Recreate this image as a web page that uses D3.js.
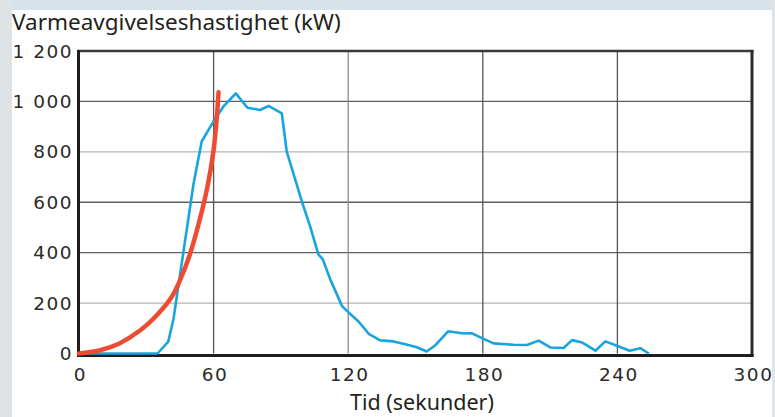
<!DOCTYPE html>
<html lang="no">
<head>
<meta charset="UTF-8"/>
<title>Varmeavgivelseshastighet</title>
<script src="https://d3js.org/d3.v7.min.js"></script>
<style>
	body { margin: 0; background-color: #ffffff; }
	svg { display: block; }
	text { font-family: "Noto Sans", "Open Sans", sans-serif; fill: #231f20; }
	.tick-label { font-family: "DejaVu Sans", sans-serif; font-size: 18.5px; letter-spacing: 1.5px; fill: #2a2a2a; }
</style>
</head>
<body>
<script>
	var w = 775;
	var h = 417;

	// tick values on both axes
	var xTicks = [0, 60, 120, 180, 240, 300];
	var yTicks = [0, 200, 400, 600, 800, 1000, 1200];

	// measured heat release rate, [seconds, kW]
	var measuredTime = [0, 35, 39.8, 42.1, 44.3, 46.5, 48.8, 51, 54.7, 59.9, 64.4, 69.9,
		75.1, 80.7, 84.5, 90.4, 92.6, 96.4, 99.3, 103, 106.7, 108.7, 112, 117.2, 119.4,
		124.6, 129.3, 134.3, 140.2, 145, 150.6, 155, 159, 164.5, 170, 175.2, 179.6, 184.8,
		193.7, 199.7, 204.9, 210.1, 216, 219.8, 224.2, 230.2, 234.6, 239.8, 245.5, 250.2, 254];
	var measuredKw = [0, 0, 47, 136, 268, 400, 538, 670, 841, 920, 980, 1032,
		975, 966, 982, 953, 801, 690, 604, 505, 393, 373, 294, 189, 169,
		127, 77, 52, 48, 38, 25, 8, 34, 88, 81, 80, 61, 40,
		35, 34, 51, 24, 22, 53, 44, 11, 48, 31, 11, 21, 0];

	// growth curve, [seconds, kW]
	var curveTime = [0, 9, 18, 27, 35, 41, 45, 49.5, 53.5, 57, 59.9, 61.4, 62.2];
	var curveKw = [0, 12, 40, 90, 155, 220, 290, 395, 520, 650, 800, 934, 1036];

	var fmt = d3.formatLocale({decimal: ",", thousands: " ", grouping: [3], currency: ["", ""]}).format(",");

	var xScale = d3.scaleLinear()
		.domain([0, 300])
		.range([79, 752]);

	var yScale = d3.scaleLinear()
		.domain([0, 1200])
		.range([353.5, 51]);

	var svg = d3.select("body")
		.append("svg")
		.attr("width", w)
		.attr("height", h);

	// page frame
	svg.append("rect").attr("x", 0).attr("y", 0).attr("width", w).attr("height", 10).attr("fill", "#d8e2ea");
	svg.append("rect").attr("x", 0).attr("y", 0).attr("width", 12).attr("height", h).attr("fill", "#dfe3e6");

	// grid
	svg.selectAll(".hgrid")
		.data(yTicks.slice(1, -1))
		.enter()
		.append("line")
		.attr("x1", xScale(0))
		.attr("x2", xScale(300))
		.attr("y1", function(d) { return yScale(d); })
		.attr("y2", function(d) { return yScale(d); })
		.attr("stroke", function(d) { return (d == 200 || d == 800) ? "#b4b4b4" : "#5f5f5f"; })
		.attr("stroke-width", 1.4);

	svg.selectAll(".vgrid")
		.data(xTicks.slice(1, -1))
		.enter()
		.append("line")
		.attr("x1", function(d) { return xScale(d); })
		.attr("x2", function(d) { return xScale(d); })
		.attr("y1", yScale(1200))
		.attr("y2", yScale(0))
		.attr("stroke", function(d) { return d == 120 ? "#8c8c8c" : "#555555"; })
		.attr("stroke-width", 1.3);

	// frame lines
	svg.append("line").attr("x1", 77).attr("x2", 753.5).attr("y1", 51).attr("y2", 51)
		.attr("stroke", "#3a3a3a").attr("stroke-width", 2.5);
	svg.append("line").attr("x1", 752).attr("x2", 752).attr("y1", 50).attr("y2", 357)
		.attr("stroke", "#2a2a2a").attr("stroke-width", 3);
	svg.append("line").attr("x1", 78.5).attr("x2", 78.5).attr("y1", 50).attr("y2", 357)
		.attr("stroke", "#1e1e1e").attr("stroke-width", 3);
	svg.append("line").attr("x1", 77).attr("x2", 753.5).attr("y1", 355.5).attr("y2", 355.5)
		.attr("stroke", "#1e1e1e").attr("stroke-width", 3);

	// axis labels
	var yAxis = d3.axisLeft(yScale).tickValues(yTicks).tickSize(0).tickPadding(0).tickFormat(fmt);
	var gy = svg.append("g").attr("transform", "translate(73,0)").call(yAxis);
	gy.select(".domain").remove();
	gy.selectAll("text").attr("class", "tick-label").attr("dy", "0.33em").attr("x", 0);

	var xAxis = d3.axisBottom(xScale).tickValues(xTicks).tickSize(0).tickPadding(0).tickFormat(fmt);
	var gx = svg.append("g").attr("transform", "translate(1,381)").call(xAxis);
	gx.select(".domain").remove();
	gx.selectAll("text").attr("class", "tick-label").attr("dy", "0").attr("y", 0);
	svg.selectAll("g").attr("font-family", null).attr("font-size", null);

	// series
	var blueLine = d3.line()
		.x(function(d, i) { return xScale(measuredTime[i]); })
		.y(function(d) { return yScale(d); });

	svg.append("path")
		.datum(measuredKw)
		.attr("d", blueLine)
		.attr("fill", "none")
		.attr("stroke", "#18a4de")
		.attr("stroke-width", 2.6)
		.attr("stroke-linejoin", "round");

	var redLine = d3.line()
		.x(function(d, i) { return xScale(curveTime[i]); })
		.y(function(d) { return yScale(d); })
		.curve(d3.curveCatmullRom);

	svg.append("path")
		.datum(curveKw)
		.attr("d", redLine)
		.attr("fill", "none")
		.attr("stroke", "#ef4b32")
		.attr("stroke-width", 4.5)
		.attr("stroke-linecap", "round");

	// titles
	svg.append("text")
		.attr("x", 12)
		.attr("y", 30)
		.style("font-size", "22.5px")
		.text("Varmeavgivelseshastighet (kW)");

	svg.append("text")
		.attr("x", 422)
		.attr("y", 410)
		.attr("text-anchor", "middle")
		.style("font-size", "21.5px")
		.text("Tid (sekunder)");

	// right edge strip covers the clipped 300 label
	svg.append("rect").attr("x", 772).attr("y", 0).attr("width", 3).attr("height", h).attr("fill", "#dde4ea");
</script>
</body>
</html>
